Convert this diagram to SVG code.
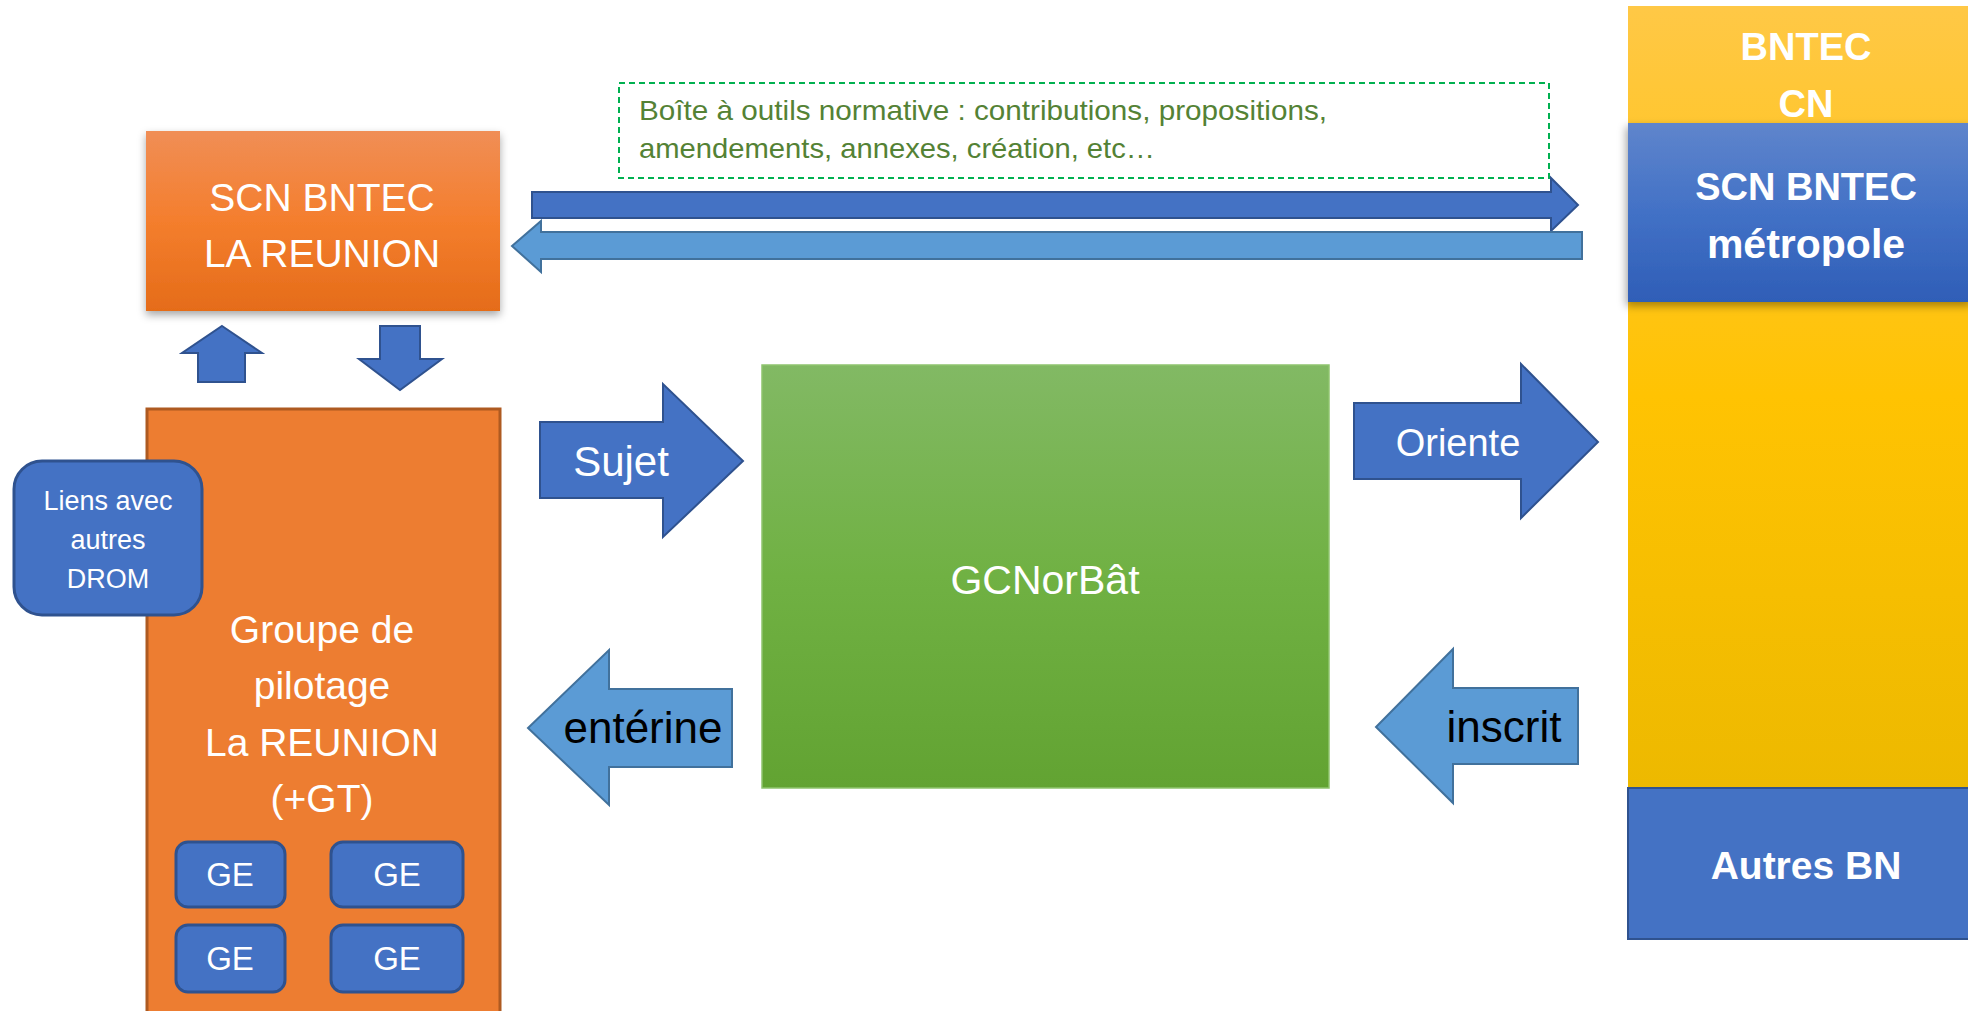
<svg xmlns="http://www.w3.org/2000/svg" width="1968" height="1011" viewBox="0 0 1968 1011">
<defs>
<linearGradient id="gOrange" x1="0" y1="0" x2="0" y2="1">
<stop offset="0" stop-color="#F08E56"/><stop offset="0.5" stop-color="#F47E2D"/><stop offset="1" stop-color="#E56C19"/>
</linearGradient>
<linearGradient id="gGreen" x1="0" y1="0" x2="0" y2="1">
<stop offset="0" stop-color="#82B964"/><stop offset="0.5" stop-color="#70B143"/><stop offset="1" stop-color="#62A332"/>
</linearGradient>
<linearGradient id="gYellow" x1="0" y1="0" x2="0" y2="1">
<stop offset="0" stop-color="#FFC846"/><stop offset="0.5" stop-color="#FFC302"/><stop offset="1" stop-color="#EDB900"/>
</linearGradient>
<linearGradient id="gBlue" x1="0" y1="0" x2="0" y2="1">
<stop offset="0" stop-color="#5F85CC"/><stop offset="0.5" stop-color="#4271C6"/><stop offset="1" stop-color="#2F5EB7"/>
</linearGradient>
<filter id="shadow" x="-10%" y="-10%" width="125%" height="130%">
<feDropShadow dx="0" dy="4" stdDeviation="4" flood-color="#000" flood-opacity="0.35"/>
</filter>
<filter id="shadowL" x="-10%" y="-10%" width="125%" height="130%">
<feDropShadow dx="-2" dy="4" stdDeviation="4" flood-color="#000" flood-opacity="0.35"/>
</filter>
</defs>
<style>
.t{font-family:"Liberation Sans",Arial,sans-serif;fill:#fff;text-anchor:middle}
.b{font-weight:bold}
.blueArrow{fill:#4472C4;stroke:#2F528F;stroke-width:2}
.lightArrow{fill:#5B9BD5;stroke:#41719C;stroke-width:2}
.ge{fill:#4472C4;stroke:#2F528F;stroke-width:3}
</style>
<rect width="1968" height="1011" fill="#fff"/>

<g id="bntec-cn">
<rect x="1628" y="6" width="345" height="782" fill="url(#gYellow)"/>
<text class="t b" x="1806" y="60" font-size="38">BNTEC</text>
<text class="t b" x="1806" y="117" font-size="38">CN</text>
</g>

<g id="scn-metropole">
<rect x="1628" y="123" width="345" height="179" fill="url(#gBlue)" filter="url(#shadowL)"/>
<text class="t b" x="1806" y="200" font-size="38">SCN BNTEC</text>
<text class="t b" x="1806" y="258" font-size="41">métropole</text>
</g>

<g id="autres-bn">
<rect x="1628" y="788" width="345" height="151" fill="#4472C4" stroke="#2F528F" stroke-width="2"/>
<text class="t b" x="1806" y="879" font-size="39">Autres BN</text>
</g>

<g id="boite-outils">
<rect x="619" y="83" width="930" height="95" fill="none" stroke="#00B050" stroke-width="2" stroke-dasharray="6,4"/>
<text x="639" y="120" font-family="Liberation Sans, Arial, sans-serif" font-size="28" fill="#548235" textLength="688" lengthAdjust="spacingAndGlyphs">Boîte à outils normative : contributions, propositions,</text>
<text x="639" y="158" font-family="Liberation Sans, Arial, sans-serif" font-size="28" fill="#548235" textLength="516" lengthAdjust="spacingAndGlyphs">amendements, annexes, création,  etc…</text>
</g>

<g id="scn-reunion">
<rect x="146" y="131" width="354" height="180" fill="url(#gOrange)" filter="url(#shadow)"/>
<text class="t" x="322" y="211" font-size="39">SCN BNTEC</text>
<text class="t" x="322" y="267" font-size="39">LA REUNION</text>
</g>

<g id="groupe-pilotage">
<rect x="147" y="409" width="353" height="610" fill="#ED7D31" stroke="#AE5A21" stroke-width="3"/>
<text class="t" x="322" y="643" font-size="39">Groupe de</text>
<text class="t" x="322" y="699" font-size="39">pilotage</text>
<text class="t" x="322" y="756" font-size="39">La REUNION</text>
<text class="t" x="322" y="812" font-size="39">(+GT)</text>
</g>

<g id="ge-1"><rect class="ge" x="176" y="842" width="109" height="65" rx="12"/><text class="t" x="230" y="886" font-size="33">GE</text></g>
<g id="ge-2"><rect class="ge" x="331" y="842" width="132" height="65" rx="12"/><text class="t" x="397" y="886" font-size="33">GE</text></g>
<g id="ge-3"><rect class="ge" x="176" y="925" width="109" height="67" rx="12"/><text class="t" x="230" y="970" font-size="33">GE</text></g>
<g id="ge-4"><rect class="ge" x="331" y="925" width="132" height="67" rx="12"/><text class="t" x="397" y="970" font-size="33">GE</text></g>

<g id="liens-drom">
<rect x="14" y="461" width="188" height="154" rx="28" fill="#4472C4" stroke="#2F528F" stroke-width="3"/>
<text class="t" x="108" y="510" font-size="27">Liens avec</text>
<text class="t" x="108" y="549" font-size="27">autres</text>
<text class="t" x="108" y="588" font-size="27">DROM</text>
</g>

<g id="gcnorbat">
<rect x="762" y="365" width="567" height="423" fill="url(#gGreen)" stroke="#8FC46E" stroke-width="1.5"/>
<text class="t" x="1045" y="594" font-size="41">GCNorBât</text>
</g>

<g id="connectors">
<polygon class="blueArrow" points="532,192 1551,192 1551,178 1578,205 1551,231 1551,218 532,218"/>
<polygon class="lightArrow" points="1582,232 541,232 541,221 512,246 541,272 541,259 1582,259"/>
<polygon class="blueArrow" points="222,326 262,353 245,353 245,382 198,382 198,353 182,353"/>
<polygon class="blueArrow" points="380,326 420,326 420,359 442,359 400,390 359,359 380,359"/>
<g id="arrow-sujet">
<polygon class="blueArrow" points="540,422 663,422 663,384 743,461 663,537 663,498 540,498"/>
<text class="t" x="621" y="476" font-size="42">Sujet</text>
</g>
<g id="arrow-oriente">
<polygon class="blueArrow" points="1354,403 1521,403 1521,364 1598,442 1521,518 1521,479 1354,479"/>
<text class="t" x="1458" y="456" font-size="38">Oriente</text>
</g>
<g id="arrow-enterine">
<polygon class="lightArrow" points="732,689 609,689 609,650 528,728 609,805 609,767 732,767"/>
<text class="t" x="643" y="743" font-size="44" style="fill:#000">entérine</text>
</g>
<g id="arrow-inscrit">
<polygon class="lightArrow" points="1578,688 1453,688 1453,649 1376,727 1453,803 1453,764 1578,764"/>
<text class="t" x="1504" y="742" font-size="44" style="fill:#000">inscrit</text>
</g>
</g>
</svg>
